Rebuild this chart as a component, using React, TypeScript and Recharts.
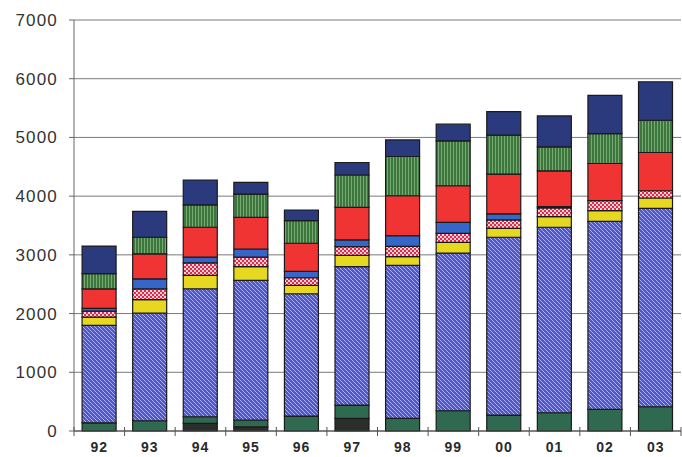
import React from 'react';
import { BarChart, Bar, XAxis, YAxis, CartesianGrid } from 'recharts';

const categories = ['92', '93', '94', '95', '96', '97', '98', '99', '00', '01', '02', '03'];
const baseDark = [0, 0, 130, 70, 0, 215, 0, 0, 0, 0, 0, 0];
const darkGreen = [140, 175, 113, 117, 255, 226, 215, 345, 272, 311, 368, 413];
const hatchedBlue = [1660, 1835, 2180, 2377, 2083, 2359, 2605, 2683, 3028, 3159, 3203, 3379];
const yellow = [140, 226, 227, 236, 142, 190, 150, 186, 152, 181, 182, 176];
const pinkCheck = [100, 184, 215, 160, 130, 150, 176, 153, 143, 149, 169, 124];
const blue = [50, 170, 95, 140, 107, 115, 182, 187, 102, 20, 0, 0];
const red = [330, 427, 510, 540, 481, 555, 679, 623, 679, 612, 634, 651];
const greenStripe = [260, 283, 380, 396, 385, 550, 668, 764, 662, 407, 509, 550];
const navy = [470, 440, 425, 198, 181, 213, 283, 284, 401, 527, 652, 655];
const yTicks = [0, 1000, 2000, 3000, 4000, 5000, 6000, 7000];

const data = categories.map((c, i) => ({
  cat: c,
  baseDark: baseDark[i],
  darkGreen: darkGreen[i],
  hatchedBlue: hatchedBlue[i],
  yellow: yellow[i],
  pinkCheck: pinkCheck[i],
  blue: blue[i],
  red: red[i],
  greenStripe: greenStripe[i],
  navy: navy[i],
}));

const FONT = "'Liberation Sans', Arial, sans-serif";

const XTick = (props: any) => {
  const { x, y, payload, index, visibleTicksCount } = props;
  const off = payload.offset || 0;
  const isLast = index === visibleTicksCount - 1;
  return (
    <g>
      <line x1={x - off} x2={x - off} y1={y - 4} y2={y + 5} stroke="#555" strokeWidth={1} />
      {isLast && <line x1={x + off} x2={x + off} y1={y - 4} y2={y + 5} stroke="#555" strokeWidth={1} />}
      <text x={x} y={y + 21} textAnchor="middle" fontSize={14} fontWeight="bold" fill="#2a2a2a"
        letterSpacing={1} fontFamily={FONT}>{payload.value}</text>
    </g>
  );
};

const YTick = (props: any) => {
  const { x, y, payload } = props;
  return (
    <text x={x} y={y + 6} textAnchor="end" fontSize={17} fill="#333" letterSpacing={1.2}
      fontFamily={FONT}>{payload.value}</text>
  );
};

const stroke = '#1a1a1a';

export default function App() {
  return (
    <div style={{ position: 'absolute', left: 0, top: 0, background: '#fff' }}>
      <BarChart width={682} height={457} data={data} margin={{ top: 20, right: 1, bottom: 0, left: 0 }}
        barCategoryGap="16%">
        <defs>
          <pattern id="hatch" patternUnits="userSpaceOnUse" width="4" height="4">
            <rect width="4" height="4" fill="#5258cc" />
            <path d="M-1,-1 L5,5 M-1,3 L1,5 M3,-1 L5,1" stroke="#a9afec" strokeWidth="1" />
          </pattern>
          <pattern id="check" patternUnits="userSpaceOnUse" width="4" height="4">
            <rect width="4" height="4" fill="#e22a48" />
            <rect x="0" y="0" width="2" height="2" fill="#fbd0d8" />
            <rect x="2" y="2" width="2" height="2" fill="#fbd0d8" />
          </pattern>
          <pattern id="vstripe" patternUnits="userSpaceOnUse" width="3" height="4">
            <rect width="3" height="4" fill="#3c783c" />
            <rect x="0" y="0" width="1" height="4" fill="#79a877" />
          </pattern>
        </defs>
        <CartesianGrid vertical={false} stroke="#7a7a7a" strokeWidth={1} />
        <XAxis dataKey="cat" height={26} tickLine={false} tickSize={0} tickMargin={0}
          axisLine={{ stroke: '#444' }} tick={<XTick />} interval={0} />
        <YAxis width={74} domain={[0, 7000]} ticks={yTicks} tickSize={5} tickMargin={11}
          axisLine={{ stroke: '#666' }} tickLine={{ stroke: '#666' }} tick={<YTick />} />
        <Bar dataKey="baseDark" stackId="a" fill="#2b2f2c" stroke={stroke} strokeWidth={1.2} isAnimationActive={false} />
        <Bar dataKey="darkGreen" stackId="a" fill="#2f6a50" stroke={stroke} strokeWidth={1.2} isAnimationActive={false} />
        <Bar dataKey="hatchedBlue" stackId="a" fill="url(#hatch)" stroke={stroke} strokeWidth={1.2} isAnimationActive={false} />
        <Bar dataKey="yellow" stackId="a" fill="#e6d820" stroke={stroke} strokeWidth={1.2} isAnimationActive={false} />
        <Bar dataKey="pinkCheck" stackId="a" fill="url(#check)" stroke={stroke} strokeWidth={1.2} isAnimationActive={false} />
        <Bar dataKey="blue" stackId="a" fill="#3566c8" stroke={stroke} strokeWidth={1.2} isAnimationActive={false} />
        <Bar dataKey="red" stackId="a" fill="#f03434" stroke={stroke} strokeWidth={1.2} isAnimationActive={false} />
        <Bar dataKey="greenStripe" stackId="a" fill="url(#vstripe)" stroke={stroke} strokeWidth={1.2} isAnimationActive={false} />
        <Bar dataKey="navy" stackId="a" fill="#2b3a7c" stroke={stroke} strokeWidth={1.2} isAnimationActive={false} />
      </BarChart>
    </div>
  );
}
